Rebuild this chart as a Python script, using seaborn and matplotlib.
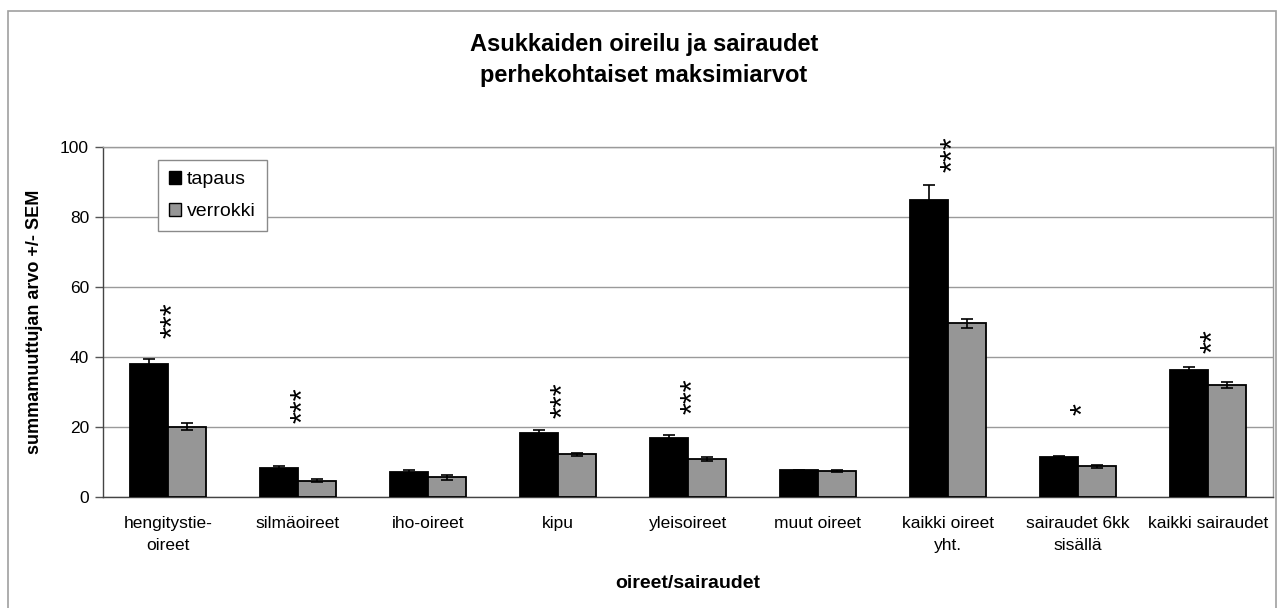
import matplotlib
matplotlib.use("Agg")
import matplotlib.pyplot as plt
import matplotlib.transforms as mtransforms
from matplotlib.patches import Rectangle
import seaborn as sns
import pandas as pd
import numpy as np

categories = ["hengitystie-\noireet", "silmäoireet", "iho-oireet", "kipu", "yleisoireet",
              "muut oireet", "kaikki oireet\nyht.", "sairaudet 6kk\nsisällä", "kaikki sairaudet"]
groups = ["tapaus", "verrokki"]
tapaus = [38.0, 8.4, 7.1, 18.4, 17.0, 7.6, 85.0, 11.3, 36.3]
tapaus_sem = [1.3, 0.4, 0.7, 0.7, 0.8, 0.2, 4.2, 0.3, 0.8]
verrokki = [20.1, 4.7, 5.6, 12.2, 10.8, 7.4, 49.6, 8.8, 32.0]
verrokki_sem = [1.0, 0.4, 0.6, 0.4, 0.6, 0.2, 1.4, 0.4, 0.8]
significance = ["***", "***", "", "***", "***", "", "***", "*", "**"]
sig_y = [50.6, 26.3, 0, 27.7, 28.9, 0, 97.9, 25.1, 44.4]
yticks = [0, 20, 40, 60, 80, 100]

title = "Asukkaiden oireilu ja sairaudet\nperhekohtaiset maksimiarvot"
ylabel = "summamuuttujan arvo +/- SEM"
xlabel = "oireet/sairaudet"

sns.set_theme(style="white")
plt.rcParams["font.family"] = ["Liberation Sans", "DejaVu Sans"]
plt.rcParams["text.color"] = "black"
plt.rcParams["axes.labelcolor"] = "black"
plt.rcParams["xtick.color"] = "black"
plt.rcParams["ytick.color"] = "black"

df = pd.DataFrame({
    "kategoria": categories * 2,
    "ryhmä": [groups[0]] * len(categories) + [groups[1]] * len(categories),
    "arvo": tapaus + verrokki,
    "sem": tapaus_sem + verrokki_sem,
})

W, H = 1288, 608
fig = plt.figure(figsize=(W / 100, H / 100), dpi=100)
fig.patch.set_facecolor("white")
ax = fig.add_axes([103 / W, 1 - 497 / H, (1273 - 103) / W, 350 / H])

palette = {"tapaus": "#000000", "verrokki": "#969696"}
sns.barplot(data=df, x="kategoria", y="arvo", hue="ryhmä", order=categories,
            hue_order=groups, palette=palette, width=0.58, errorbar=None,
            edgecolor="black", linewidth=1.3, saturation=1, ax=ax, zorder=3)

sems = [tapaus_sem, verrokki_sem]
for cont, sem in zip(ax.containers, sems):
    xs = [p.get_x() + p.get_width() / 2 for p in cont.patches]
    hs = [p.get_height() for p in cont.patches]
    ax.errorbar(xs, hs, yerr=sem, fmt="none", ecolor="black", elinewidth=1.2,
                capsize=4, capthick=1.2, zorder=4)

ax.set_ylim(0, 100)
ax.set_xlim(-0.5, len(categories) - 0.5)
ax.set_yticks(yticks)
ax.set_yticklabels([str(t) for t in yticks], fontsize=12.5)
ax.yaxis.grid(True, color="#9a9a9a", linewidth=1.0, zorder=0)
ax.set_axisbelow(True)

ax.set_xticks(range(len(categories)))
ax.set_xticklabels(categories, fontsize=12.5)
for lab in ax.get_xticklabels():
    lab.set_linespacing(1.55)
ax.set_xticks(np.arange(-0.5, len(categories)), minor=True)
ax.tick_params(axis="x", which="major", length=0, pad=14)
ax.tick_params(axis="x", which="minor", length=6, width=1, color="#555555", direction="out")
ax.tick_params(axis="y", which="major", length=6, width=1, color="#555555", direction="out",
               left=True, pad=4)

for s in ["left", "bottom"]:
    ax.spines[s].set_color("#444444")
    ax.spines[s].set_linewidth(1.0)
for s in ["top", "right"]:
    ax.spines[s].set_color("#9a9a9a")
    ax.spines[s].set_linewidth(1.0)

ax.set_xlabel(xlabel, fontsize=14, fontweight="bold", labelpad=16)
ax.set_ylabel(ylabel, fontsize=13, fontweight="bold", labelpad=12)

off = mtransforms.offset_copy(ax.transData, fig=fig, x=6, y=0, units="dots")
for i, (s, y) in enumerate(zip(significance, sig_y)):
    if s:
        ax.text(i, y, s, rotation=90, ha="center", va="center", fontsize=22,
                color="black", transform=off, zorder=5)

leg = ax.legend(loc="upper left", bbox_to_anchor=(0.047, 0.962), fontsize=14,
                frameon=True, fancybox=False, edgecolor="#8a8a8a", framealpha=1,
                handlelength=0.65, handleheight=0.65, handletextpad=0.3,
                labelspacing=0.75, borderpad=0.55, borderaxespad=0, title=None)
leg.get_frame().set_linewidth(1.0)
for h in leg.legend_handles:
    h.set_edgecolor("black")
    h.set_linewidth(1.0)
for t in leg.get_texts():
    t.set_color("black")

fig.text(0.5, 1 - 60 / H, title, ha="center", va="center", fontsize=17,
         fontweight="bold", linespacing=1.42, color="black")

fig.add_artist(Rectangle((8 / W, -0.02), (1276 - 8) / W, 1 - 11 / H + 0.02,
                         transform=fig.transFigure, fill=False,
                         edgecolor="#a0a0a0", linewidth=1.2))

fig.savefig("out.png", dpi=100, facecolor="white")
